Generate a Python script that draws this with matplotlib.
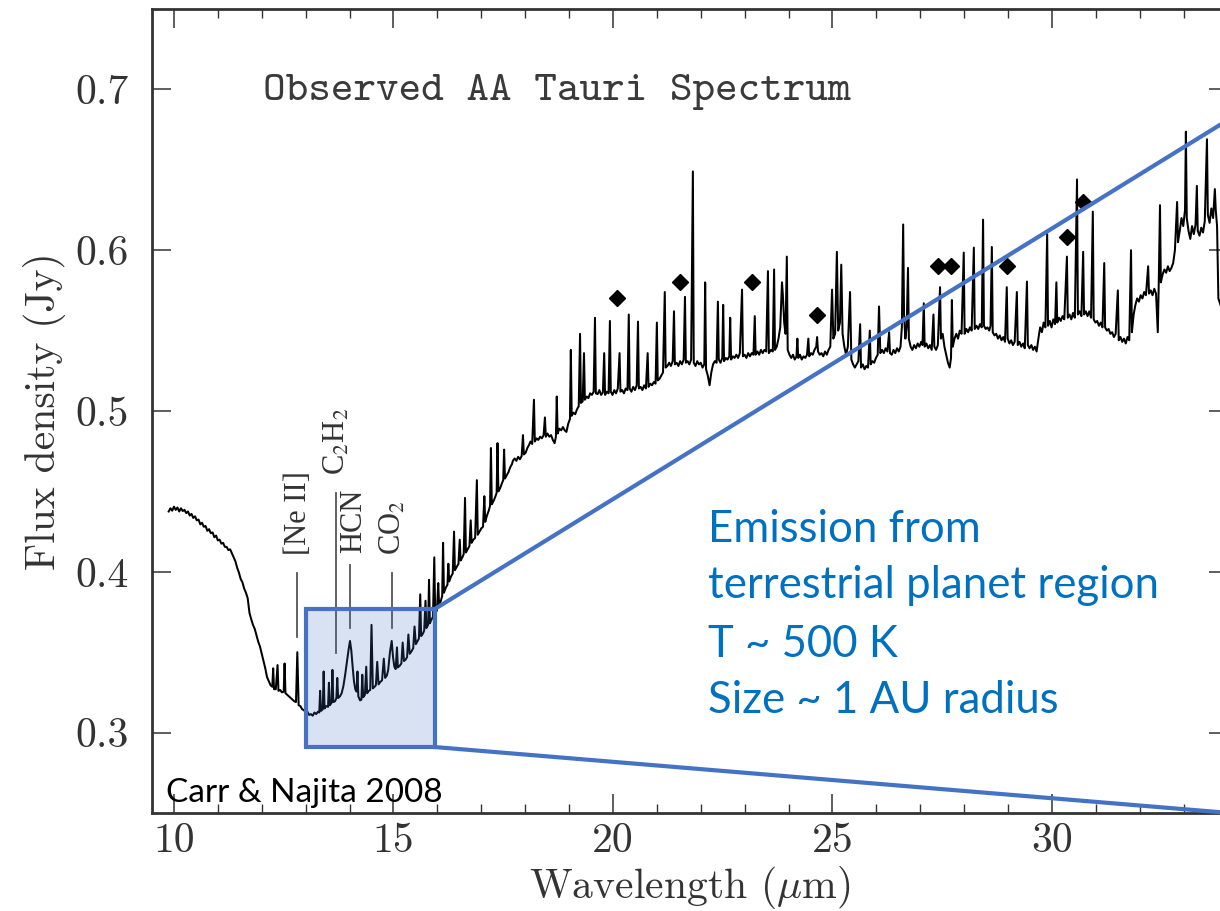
import matplotlib
matplotlib.use("Agg")
import matplotlib.pyplot as plt
from matplotlib.patches import Rectangle
from matplotlib.ticker import MultipleLocator

# ---------------- data ----------------
spec_short = [(9.88,0.4375),(9.92,0.4395),(9.96,0.438),(10.0,0.4405),(10.04,0.4385),(10.08,0.4400),
    (10.12,0.4375),(10.16,0.4395),(10.2,0.4378),(10.24,0.4385),(10.28,0.4365),(10.32,0.4375),(10.36,0.435),
    (10.4,0.436),(10.44,0.4335),(10.48,0.4345),(10.52,0.432),(10.56,0.4325),(10.6,0.4295),(10.64,0.4305),
    (10.68,0.428),(10.72,0.4285),(10.76,0.4255),(10.8,0.4265),(10.84,0.424),(10.88,0.4245),(10.92,0.4215),
    (10.96,0.4225),(11.0,0.4195),(11.04,0.42),(11.08,0.4175),(11.12,0.418),(11.16,0.4155),(11.2,0.4155),
    (11.24,0.4135),(11.28,0.414),(11.32,0.4115),(11.36,0.409),(11.4,0.4065),(11.44,0.4025),(11.48,0.3995),
    (11.52,0.3955),(11.56,0.3935),(11.6,0.3895),(11.64,0.387),(11.68,0.3835),(11.72,0.3745),(11.76,0.3705),
    (11.8,0.367),(11.84,0.3645),(11.88,0.3605),(11.92,0.3565),(11.96,0.3535),(12.0,0.349),(12.04,0.3445),
    (12.08,0.340),(12.12,0.3345),(12.16,0.332),(12.2,0.3295),(12.24,0.3285),(12.26,0.340),(12.28,0.327),
    (12.32,0.327),(12.36,0.342),(12.38,0.326),(12.42,0.3265),(12.46,0.325),(12.5,0.3255),(12.52,0.343),
    (12.54,0.3245),(12.58,0.3235),(12.62,0.3225),(12.66,0.3215),(12.7,0.3205),(12.74,0.3195),(12.78,0.319),
    (12.81,0.350),(12.84,0.317),(12.88,0.3165),(12.92,0.3145),(12.96,0.314),(13.0,0.3125),(13.04,0.313),
    (13.08,0.311),(13.12,0.3115)]

spec_box = [(13.16,0.3105),(13.2,0.3125),(13.24,0.3115),(13.28,0.313),(13.31,0.3125),(13.33,0.326),
    (13.35,0.3135),(13.39,0.3145),(13.41,0.338),(13.43,0.315),(13.47,0.3165),(13.51,0.316),(13.53,0.331),
    (13.55,0.317),(13.59,0.3185),(13.61,0.339),(13.63,0.319),(13.67,0.3195),(13.7,0.3215),(13.72,0.334),
    (13.74,0.3215),(13.78,0.3225),(13.82,0.3245),(13.86,0.329),(13.9,0.336),(13.94,0.344),(13.98,0.352),
    (14.01,0.357),(14.04,0.351),(14.07,0.341),(14.1,0.332),(14.13,0.327),(14.16,0.3255),(14.18,0.338),
    (14.2,0.3225),(14.24,0.320),(14.27,0.3205),(14.29,0.336),(14.31,0.322),(14.35,0.3235),(14.38,0.341),
    (14.4,0.3245),(14.44,0.326),(14.47,0.3265),(14.5,0.367),(14.53,0.3275),(14.57,0.3285),(14.6,0.3295),
    (14.63,0.344),(14.66,0.330),(14.7,0.3315),(14.74,0.3325),(14.78,0.346),(14.81,0.334),(14.85,0.3355),
    (14.88,0.339),(14.92,0.350),(14.96,0.357),(14.99,0.347),(15.02,0.341),(15.05,0.3395),(15.08,0.353),
    (15.1,0.3405),(15.14,0.3415),(15.18,0.343),(15.21,0.356),(15.24,0.3445),(15.28,0.3455),(15.31,0.347),
    (15.34,0.361),(15.37,0.349),(15.41,0.3505),(15.45,0.3525),(15.48,0.366),(15.51,0.355),(15.55,0.357),
    (15.58,0.3585),(15.61,0.386),(15.63,0.360),(15.67,0.3615),(15.7,0.3635),(15.73,0.382),(15.75,0.365),
    (15.79,0.367),(15.81,0.395),(15.83,0.368),(15.86,0.370),(15.9,0.372),(15.93,0.409),(15.95,0.374),
    (15.99,0.376)]

spec_mid = [(16.02,0.393),(16.04,0.379),(16.08,0.382),(16.11,0.385),(16.13,0.418),(16.15,0.387),
    (16.19,0.390),(16.23,0.392),(16.25,0.405),(16.27,0.394),(16.31,0.397),(16.35,0.399),(16.38,0.425),
    (16.4,0.401),(16.44,0.403),(16.48,0.405),(16.51,0.42),(16.53,0.407),(16.57,0.409),(16.6,0.411),
    (16.63,0.446),(16.65,0.412),(16.69,0.414),(16.73,0.416),(16.76,0.432),(16.78,0.418),(16.82,0.420),
    (16.86,0.421),(16.9,0.457),(16.92,0.423),(16.96,0.425),(17.0,0.427),(17.04,0.428),(17.07,0.447),
    (17.09,0.431),(17.13,0.435),(17.17,0.438),(17.2,0.441),(17.22,0.477),(17.24,0.442),(17.28,0.444),
    (17.31,0.446),(17.35,0.449),(17.37,0.480),(17.39,0.450),(17.43,0.452),(17.47,0.455),(17.5,0.457),
    (17.52,0.476),(17.54,0.458),(17.58,0.460),(17.62,0.462),(17.66,0.465),(17.7,0.467),(17.72,0.469),
    (17.76,0.4705),(17.8,0.469),(17.84,0.4715),(17.88,0.470),(17.92,0.472),(17.95,0.485),(17.97,0.473),
    (18.01,0.474),(18.05,0.477),(18.09,0.479),(18.12,0.481),(18.16,0.4795),(18.2,0.507),(18.22,0.481),
    (18.26,0.483),(18.3,0.482),(18.34,0.484),(18.38,0.483),(18.42,0.485),(18.45,0.496),(18.47,0.484),
    (18.51,0.486),(18.55,0.484),(18.59,0.485),(18.63,0.482),(18.67,0.480),(18.7,0.484),(18.72,0.509),
    (18.74,0.486),(18.78,0.489),(18.82,0.488),(18.86,0.490),(18.9,0.488),(18.94,0.487),(18.98,0.492),
    (19.02,0.495),(19.04,0.538),(19.06,0.497),(19.1,0.499),(19.14,0.498),(19.18,0.501),(19.22,0.503),
    (19.25,0.548),(19.27,0.505),(19.31,0.506),(19.34,0.536),(19.36,0.507),(19.4,0.509),(19.44,0.508),
    (19.48,0.511),(19.52,0.510),(19.56,0.512),(19.59,0.558),(19.61,0.511),(19.65,0.5105),(19.69,0.513),
    (19.73,0.510),(19.77,0.5115),(19.8,0.536),(19.82,0.510),(19.86,0.512),(19.9,0.511),(19.93,0.556),
    (19.95,0.512),(19.99,0.510),
    (20.03,0.513),(20.07,0.511),(20.11,0.514),(20.15,0.536),(20.17,0.512),(20.21,0.513),(20.25,0.511),
    (20.29,0.514),(20.33,0.513),(20.36,0.560),(20.38,0.514),(20.42,0.512),(20.46,0.515),(20.5,0.513),
    (20.54,0.516),(20.57,0.5556),(20.59,0.514),(20.63,0.515),(20.67,0.513),(20.71,0.516),(20.75,0.514),
    (20.79,0.536),(20.81,0.515),(20.85,0.517),(20.89,0.516),(20.93,0.518),(20.97,0.517),(21.0,0.555),
    (21.02,0.519),(21.06,0.520),(21.1,0.522),(21.14,0.524),(21.18,0.574),(21.2,0.527),(21.24,0.528),
    (21.28,0.530),(21.32,0.528),(21.36,0.531),(21.39,0.562),(21.41,0.529),(21.45,0.530),(21.49,0.528),
    (21.53,0.531),(21.57,0.529),(21.61,0.532),(21.64,0.571),(21.66,0.530),(21.7,0.531),(21.74,0.529),
    (21.78,0.532),(21.82,0.649),(21.84,0.530),(21.88,0.528),(21.92,0.531),(21.96,0.529),(22.0,0.530),
    (22.04,0.527),(22.08,0.529),(22.1,0.580),(22.12,0.526),(22.16,0.522),(22.2,0.516),(22.24,0.524),
    (22.28,0.529),(22.32,0.531),(22.36,0.530),(22.39,0.568),(22.41,0.532),(22.45,0.530),(22.49,0.533),
    (22.51,0.566),(22.53,0.531),(22.57,0.533),(22.61,0.532),(22.65,0.534),(22.67,0.558),(22.69,0.532),
    (22.73,0.534),(22.77,0.533),(22.81,0.535),(22.85,0.533),(22.89,0.536),(22.94,0.5755),(22.96,0.534),
    (23.0,0.535),(23.04,0.533),(23.08,0.536),(23.12,0.534),(23.16,0.536),(23.2,0.535),(23.23,0.559),
    (23.25,0.535),(23.29,0.537),(23.33,0.535),(23.37,0.538),(23.41,0.536),(23.45,0.538),(23.49,0.537),
    (23.53,0.587),(23.55,0.536),(23.6,0.538),(23.64,0.537),(23.67,0.588),(23.69,0.538),(23.73,0.540),
    (23.77,0.545),(23.81,0.552),(23.85,0.580),(23.87,0.572),(23.9,0.555),(23.93,0.548),(23.96,0.596),
    (23.98,0.538),(24.02,0.535),(24.06,0.533),(24.1,0.535),(24.14,0.532),(24.18,0.534),(24.2,0.545),
    (24.22,0.533),(24.26,0.535),(24.3,0.532),(24.34,0.534),(24.38,0.533),(24.42,0.535),(24.45,0.545),
    (24.47,0.534),(24.51,0.536),(24.55,0.535),(24.59,0.538),(24.63,0.540),(24.65,0.546),(24.67,0.537),
    (24.71,0.535),(24.75,0.536),(24.79,0.534),(24.83,0.537),(24.87,0.535),(24.91,0.538),(24.95,0.540),
    (24.99,0.5755)]

spec_long = [(25.02,0.545),(25.06,0.548),(25.1,0.599),(25.13,0.550),(25.17,0.555),(25.2,0.591),
    (25.23,0.548),(25.27,0.540),(25.31,0.535),(25.35,0.540),(25.4,0.574),(25.43,0.532),(25.47,0.529),
    (25.51,0.527),(25.55,0.529),(25.59,0.531),(25.63,0.554),(25.65,0.527),(25.69,0.529),(25.73,0.526),
    (25.77,0.528),(25.81,0.527),(25.85,0.550),(25.87,0.529),(25.91,0.531),(25.95,0.530),(25.99,0.533),
    (26.03,0.535),(26.06,0.565),(26.09,0.536),(26.13,0.538),(26.17,0.536),(26.21,0.539),(26.25,0.537),
    (26.29,0.549),(26.31,0.536),(26.35,0.535),(26.39,0.538),(26.43,0.536),(26.47,0.539),(26.51,0.537),
    (26.55,0.540),(26.58,0.552),(26.61,0.616),(26.63,0.560),(26.66,0.545),(26.69,0.552),(26.72,0.589),
    (26.74,0.545),(26.78,0.540),(26.82,0.538),(26.86,0.541),(26.9,0.539),(26.94,0.542),(26.98,0.540),
    (27.02,0.543),(27.05,0.541),(27.08,0.567),(27.1,0.540),(27.14,0.542),(27.18,0.539),(27.22,0.541),
    (27.26,0.538),(27.3,0.560),(27.32,0.540),(27.36,0.538),(27.4,0.541),(27.45,0.577),(27.47,0.545),
    (27.51,0.548),(27.55,0.540),(27.59,0.535),(27.63,0.530),(27.67,0.527),(27.7,0.533),(27.72,0.569),
    (27.74,0.540),(27.78,0.545),(27.82,0.548),(27.86,0.545),(27.9,0.550),(27.94,0.548),(27.99,0.5985),
    (28.01,0.548),(28.05,0.551),(28.09,0.549),(28.13,0.552),(28.17,0.550),(28.22,0.6016),(28.24,0.551),
    (28.28,0.553),(28.32,0.551),(28.36,0.554),(28.4,0.552),(28.43,0.619),(28.45,0.553),(28.49,0.551),
    (28.53,0.552),(28.57,0.550),(28.6,0.553),(28.63,0.602),(28.65,0.549),(28.69,0.547),(28.73,0.548),
    (28.77,0.545),(28.81,0.547),(28.85,0.544),(28.89,0.546),(28.93,0.543),(28.97,0.577),(28.99,0.545),
    (29.03,0.542),(29.07,0.544),(29.11,0.541),(29.15,0.543),(29.2,0.574),(29.22,0.541),(29.26,0.543),
    (29.3,0.540),(29.34,0.542),(29.38,0.539),(29.43,0.5805),(29.45,0.541),(29.49,0.539),(29.53,0.541),
    (29.57,0.538),(29.61,0.540),(29.65,0.537),(29.69,0.545),(29.73,0.552),(29.77,0.549),(29.81,0.555),
    (29.85,0.552),(29.89,0.610),(29.91,0.553),(29.95,0.556),(29.99,0.552),(30.03,0.557),(30.07,0.554),
    (30.1,0.580),(30.12,0.555),(30.16,0.558),(30.2,0.556),(30.24,0.559),(30.28,0.557),(30.34,0.596),
    (30.36,0.558),(30.4,0.560),(30.44,0.557),(30.48,0.561),(30.52,0.558),(30.57,0.644),(30.59,0.560),
    (30.63,0.562),(30.67,0.559),(30.71,0.599),(30.73,0.560),(30.77,0.562),(30.81,0.559),(30.85,0.562),
    (30.89,0.558),(30.93,0.624),(30.95,0.557),(30.99,0.555),(31.03,0.556),(31.07,0.553),(31.11,0.555),
    (31.15,0.552),(31.19,0.592),(31.21,0.552),(31.25,0.550),(31.29,0.551),(31.33,0.548),(31.37,0.549),
    (31.41,0.546),(31.45,0.548),(31.5,0.575),(31.52,0.544),(31.56,0.546),(31.6,0.543),(31.64,0.545),
    (31.68,0.542),(31.72,0.546),(31.76,0.544),(31.8,0.600),(31.82,0.549),(31.86,0.560),(31.9,0.566),
    (31.94,0.570),(31.98,0.568),(32.02,0.572),(32.06,0.570),(32.1,0.574),(32.14,0.572),(32.19,0.590),
    (32.21,0.573),(32.25,0.575),(32.29,0.572),(32.33,0.576),(32.37,0.573),(32.41,0.549),(32.43,0.577),
    (32.46,0.628),(32.48,0.580),(32.52,0.585),(32.56,0.588),(32.6,0.586),(32.64,0.590),(32.68,0.587),
    (32.72,0.589),(32.76,0.592),(32.8,0.600),(32.85,0.630),(32.87,0.605),(32.91,0.612),(32.95,0.620),
    (32.99,0.615),(33.03,0.625),(33.05,0.6737),(33.07,0.620),(33.11,0.612),(33.15,0.607),(33.19,0.615),
    (33.23,0.610),(33.27,0.616),(33.3,0.640),(33.32,0.612),(33.36,0.609),(33.4,0.614),(33.44,0.611),
    (33.48,0.618),(33.53,0.669),(33.55,0.622),(33.59,0.617),(33.63,0.626),(33.67,0.620),(33.71,0.638),
    (33.73,0.625),(33.76,0.615),(33.79,0.570),(33.85,0.565)]

diamond_wl = [20.09, 21.53, 23.17, 24.65, 27.40, 27.70, 28.97, 30.34, 30.70]
diamond_flux = [0.570, 0.580, 0.580, 0.560, 0.590, 0.590, 0.590, 0.608, 0.630]

# line identifications
id_labels = ["[Ne II]", r"C$_2$H$_2$", "HCN", r"CO$_2$"]
id_line_x = [12.81, 13.69, 14.00, 14.96]
id_line_lo = [0.3597, 0.3498, 0.3653, 0.3653]
id_line_hi = [0.3995, 0.4493, 0.4045, 0.3995]
id_text_x = [12.83, 13.71, 14.09, 14.99]
id_text_y = [0.4107, 0.4600, 0.4120, 0.4107]

zoom_box_x = [13.0, 15.95]
zoom_box_y = [0.291, 0.377]
zoom_line_end_x = 33.83
zoom_line_end_y = [0.678, 0.2505]

x_ticks = [10, 15, 20, 25, 30]
y_ticks = [0.3, 0.4, 0.5, 0.6, 0.7]
y_ticklabels = ["0.3", "0.4", "0.5", "0.6", "0.7"]

title_text = "Observed AA Tauri Spectrum"
blue_lines = ["Emission from", "terrestrial planet region", "T ~ 500 K", "Size ~ 1 AU radius"]
blue_line_y = [0.4188, 0.3840, 0.3473, 0.3124]
credit_text = "Carr & Najita 2008"

# ---------------- figure ----------------
W, H = 1220, 911
fig = plt.figure(figsize=(W / 100, H / 100), dpi=100)
ax = fig.add_axes([152 / W, 1 - 813 / H, (1227.6 - 152) / W, (813 - 9) / H])
ax.set_xlim(9.5, 34.0)
ax.set_ylim(0.25, 0.75)

spectrum = spec_short + spec_box + spec_mid + spec_long
wl = [p[0] for p in spectrum]
flux = [p[1] for p in spectrum]
ax.plot(wl, flux, color="black", lw=1.45, zorder=2)
ax.plot(diamond_wl, diamond_flux, linestyle="none", marker="D", ms=8.5, color="black", zorder=2)

for lab, lx, lo, hi, tx, ty in zip(id_labels, id_line_x, id_line_lo, id_line_hi, id_text_x, id_text_y):
    ax.plot([lx, lx], [lo, hi], color="#555555", lw=1.3, zorder=2)
    ax.text(tx, ty, lab, rotation=90, ha="center", va="bottom", fontsize=22,
            family="Liberation Serif", math_fontfamily="stix", color="#333333")

ax.text(12.03, 0.6937, title_text, family="cmtt10", fontsize=31, color="#3a3a3a",
        ha="left", va="baseline")

# zoom box and connecting lines
blue = "#4472C4"
rect = Rectangle((zoom_box_x[0], zoom_box_y[0]), zoom_box_x[1] - zoom_box_x[0],
                 zoom_box_y[1] - zoom_box_y[0], facecolor=(68 / 255, 114 / 255, 196 / 255, 0.2),
                 edgecolor=blue, lw=3, zorder=3)
ax.add_patch(rect)
ax.plot([zoom_box_x[1], zoom_line_end_x], [zoom_box_y[1], zoom_line_end_y[0]], color=blue, lw=3,
        clip_on=False, zorder=3, solid_capstyle="projecting")
ax.plot([zoom_box_x[1], zoom_line_end_x], [zoom_box_y[0], zoom_line_end_y[1]], color=blue, lw=3,
        clip_on=False, zorder=3, solid_capstyle="projecting")

for line, yy in zip(blue_lines, blue_line_y):
    ax.text(22.16, yy, line, family="Lato", fontsize=31.5, color="#0070C0", ha="left", va="baseline")

ax.text(9.82, 0.2571, credit_text, family="Lato", fontsize=24, color="black", ha="left",
        va="baseline", zorder=4)

# axes styling
for s in ax.spines.values():
    s.set_linewidth(2.0)
    s.set_color("#333333")
ax.set_xticks(x_ticks)
ax.set_xticklabels([str(t) for t in x_ticks])
ax.xaxis.set_minor_locator(MultipleLocator(1))
ax.set_yticks(y_ticks)
ax.set_yticklabels(y_ticklabels)
ax.tick_params(which="both", direction="in", top=True, right=True, color="#333333")
ax.tick_params(which="major", length=13.5, width=1.1)
ax.tick_params(which="minor", length=6.5, width=1.0)
ax.tick_params(axis="x", pad=7)
ax.tick_params(axis="y", pad=17)
for lbl in ax.get_xticklabels() + ax.get_yticklabels():
    lbl.set_family("cmr10")
    lbl.set_fontsize(30)
    lbl.set_color("#333333")

ax.set_xlabel(r"Wavelength ($\mu$m)", family="cmr10", fontsize=30, math_fontfamily="cm",
              color="#333333")
ax.xaxis.set_label_coords(0.5, -0.063)
ax.set_ylabel("Flux density (Jy)", family="cmr10", fontsize=30, color="#333333")
ax.yaxis.set_label_coords(-0.080, 0.5)

fig.savefig("out.png", dpi=100)
